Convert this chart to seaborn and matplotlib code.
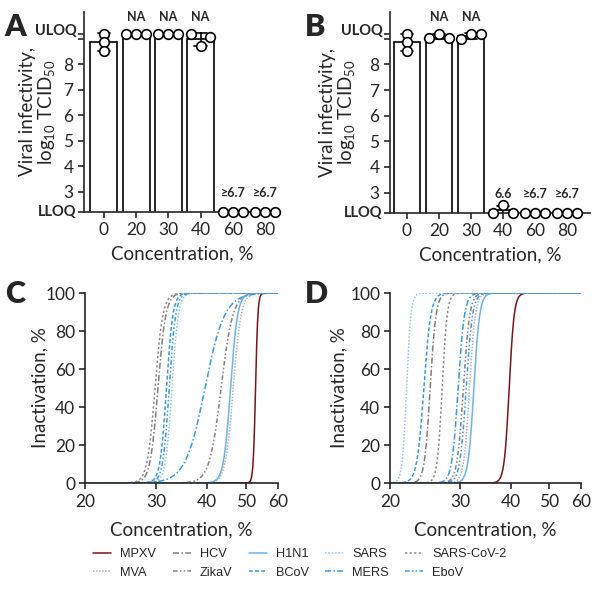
import numpy as np
import pandas as pd
import matplotlib.pyplot as plt
import seaborn as sns

sns.set_style('ticks')
plt.rcParams['font.family'] = ['Lato', 'DejaVu Sans']
plt.rcParams['mathtext.fontset'] = 'custom'
plt.rcParams['mathtext.rm'] = 'Lato'
plt.rcParams['mathtext.it'] = 'Lato:italic'
plt.rcParams['mathtext.bf'] = 'Lato:bold'
plt.rcParams['mathtext.default'] = 'regular'
plt.rcParams['axes.linewidth'] = 1.2

# ---- data: panels A / B (log10 TCID50, 3 replicates per concentration) ----
ULOQ = 9.2
LLOQ = 2.2
conc_labels = ['0', '20', '30', '40', '60', '80']

titer_a = [
    [9.2, 8.88, 8.52],
    [9.2, 9.2, 9.2],
    [9.2, 9.2, 9.2],
    [9.2, 8.70, 9.05],
    [LLOQ, LLOQ, LLOQ],
    [LLOQ, LLOQ, LLOQ],
]
titer_b = [
    [9.2, 8.88, 8.52],
    [9.05, 9.2, 9.03],
    [8.98, 9.18, 9.2],
    [LLOQ, 2.52, LLOQ],
    [LLOQ, LLOQ, LLOQ],
    [LLOQ, LLOQ, LLOQ],
]
top_note_a = ['', 'NA', 'NA', 'NA', '', '']
low_note_a = ['', '', '', '', '≥6.7', '≥6.7']
top_note_b = ['', 'NA', 'NA', '', '', '']
low_note_b = ['', '', '', '6.6', '≥6.7', '≥6.7']

# ---- data: panels C / D (fitted dose-response curves: EC50 %, Hill slope) ----
viruses = ['MPXV', 'MVA', 'HCV', 'ZikaV', 'H1N1', 'BCoV', 'SARS', 'MERS',
           'SARS-CoV-2', 'EboV']
ec50_c = [52.8, 46.5, 30.3, 43.4, 45.8, 31.8, 32.8, 39.6, 29.8, 32.3]
hill_c = [150, 45, 45, 30, 50, 55, 55, 18, 45, 55]
ec50_d = [39.7, 31.6, 25.2, 30.5, 32.4, 24.3, 22.0, 29.6, 27.0, 31.0]
hill_d = [70, 60, 60, 55, 60, 50, 80, 55, 70, 55]

palette = {
    'MPXV': '#7a1416', 'MVA': '#b0b0b0', 'HCV': '#7f7f7f', 'ZikaV': '#7f7f7f',
    'H1N1': '#6cb4e8', 'BCoV': '#3b97dd', 'SARS': '#8cc4ee', 'MERS': '#3b97dd',
    'SARS-CoV-2': '#8a8a8a', 'EboV': '#3b97dd',
}
dashes = {
    'MPXV': '', 'MVA': (1, 1), 'HCV': (4, 1.5, 1, 1.5),
    'ZikaV': (3, 1.5, 1, 1.5, 1, 1.5), 'H1N1': '', 'BCoV': (2.5, 1.5),
    'SARS': (1, 1.2), 'MERS': (4, 1.5, 1, 1.5), 'SARS-CoV-2': (1.5, 1.5),
    'EboV': (3, 1.5, 1, 1.5, 1, 1.5),
}


def curve_frame(ec50, hill):
    conc = np.geomspace(20, 60, 500)
    rows = []
    for v, e, h in zip(viruses, ec50, hill):
        y = 100 / (1 + (e / conc) ** h)
        rows.append(pd.DataFrame({'virus': v, 'conc': conc, 'inact': y}))
    return pd.concat(rows, ignore_index=True)


def titer_panel(ax, titers, top_note, low_note, xlim, letter, label_x, letter_x):
    df = pd.DataFrame({
        'conc': np.repeat(conc_labels, 3),
        'titer': np.concatenate(titers),
    })
    sns.barplot(data=df, x='conc', y='titer', order=conc_labels, errorbar='sd',
                capsize=0.4, color='white', saturation=1, edgecolor='black',
                linewidth=1.2, width=0.84,
                err_kws={'color': 'black', 'linewidth': 1.2}, ax=ax)
    # replicate points: stacked for the untreated control, spread otherwise
    xs = []
    for i, c in enumerate(conc_labels):
        offs = [0, 0, 0] if c == '0' else [-0.31, 0, 0.31]
        xs.extend(i + o for o in offs)
    sns.scatterplot(x=xs, y=df['titer'].values, marker='o', s=48, color='white',
                    edgecolor='black', linewidth=1.2, zorder=5, clip_on=False,
                    ax=ax)
    for i, (t, l) in enumerate(zip(top_note, low_note)):
        if t:
            ax.text(i, 9.85, t, ha='center', va='center', fontsize=9,
                    fontweight='bold')
        if l:
            ax.text(i, 2.95, l, ha='center', va='center', fontsize=9,
                    fontweight='bold')
    ax.set_ylim(LLOQ, 10.05)
    ax.set_xlim(*xlim)
    ax.set_yticks([LLOQ, 3, 4, 5, 6, 7, 8, 9, ULOQ])
    ax.set_yticklabels(['', '3', '4', '5', '6', '7', '8', '', ''])
    # limit-of-quantification labels sit tight against their ticks
    for val, txt, dy in [(ULOQ, 'ULOQ', 2), (LLOQ, 'LLOQ', 0)]:
        ax.annotate(txt, xy=(0, val), xycoords=ax.get_yaxis_transform(),
                    xytext=(-5.5, dy), textcoords='offset points', ha='right',
                    va='center', fontsize=10.5, fontweight='bold')
    ax.tick_params(axis='both', labelsize=12.5, width=1.2, length=4, pad=3.5)
    ax.set_xlabel('Concentration, %', fontsize=13.5, labelpad=5)
    ax.set_ylabel('Viral infectivity,\nlog$_{10}$ TCID$_{50}$', fontsize=13.5,
                  linespacing=1.0)
    ax.yaxis.set_label_coords(label_x, 0.5)
    sns.despine(ax=ax)
    ax.text(letter_x, 0.995, letter, transform=ax.transAxes, fontsize=22,
            fontweight='heavy', va='top', ha='left')


def curve_panel(ax, ec50, hill, letter, label_x, letter_x):
    df = curve_frame(ec50, hill)
    sns.lineplot(data=df, x='conc', y='inact', hue='virus', style='virus',
                 hue_order=viruses, style_order=viruses, palette=palette,
                 dashes=dashes, linewidth=1.1, estimator=None, sort=False,
                 ax=ax)
    ax.set_xscale('log')
    ax.set_xlim(20, 60)
    ax.set_ylim(0, 100)
    ax.set_xticks([20, 30, 40, 50, 60])
    ax.set_xticklabels(['20', '30', '40', '50', '60'])
    ax.xaxis.set_minor_locator(plt.NullLocator())
    ax.set_yticks([0, 20, 40, 60, 80, 100])
    ax.tick_params(axis='both', labelsize=12.5, width=1.2, length=4, pad=3)
    ax.tick_params(axis='x', pad=4)
    ax.set_xlabel('Concentration, %', fontsize=13.5, labelpad=8)
    ax.set_ylabel('Inactivation, %', fontsize=13.5)
    ax.yaxis.set_label_coords(label_x, 0.5)
    sns.despine(ax=ax)
    ax.text(letter_x, 1.068, letter, transform=ax.transAxes, fontsize=22,
            fontweight='heavy', va='top', ha='left')


fig = plt.figure(figsize=(6, 5.94), dpi=100)
ax_a = fig.add_axes([84 / 600, 1 - 212 / 594, 196 / 600, 200 / 594])
ax_b = fig.add_axes([390 / 600, 1 - 213 / 594, 200 / 600, 201 / 594])
ax_c = fig.add_axes([85 / 600, 1 - 483 / 594, 193 / 600, 190 / 594])
ax_d = fig.add_axes([390 / 600, 1 - 483 / 594, 191 / 600, 190 / 594])

titer_panel(ax_a, titer_a, top_note_a, low_note_a, (-0.62, 5.47), 'A',
            -0.138, -0.405)
titer_panel(ax_b, titer_b, top_note_b, low_note_b, (-0.53, 5.72), 'B',
            -0.165, -0.425)
curve_panel(ax_c, ec50_c, hill_c, 'C', -0.19, -0.415)
curve_panel(ax_d, ec50_d, hill_d, 'D', -0.225, -0.445)

handles, labels = ax_c.get_legend_handles_labels()
ax_c.get_legend().remove()
ax_d.get_legend().remove()
fig.legend(handles, labels, ncol=5, loc='center', bbox_to_anchor=(0.5, 0.0515),
           frameon=False, prop={'family': 'Liberation Sans', 'size': 9.2},
           handlelength=1.4, columnspacing=1.3, handletextpad=0.7,
           labelspacing=0.5)

fig.savefig('out.png', dpi=100, facecolor='white')
